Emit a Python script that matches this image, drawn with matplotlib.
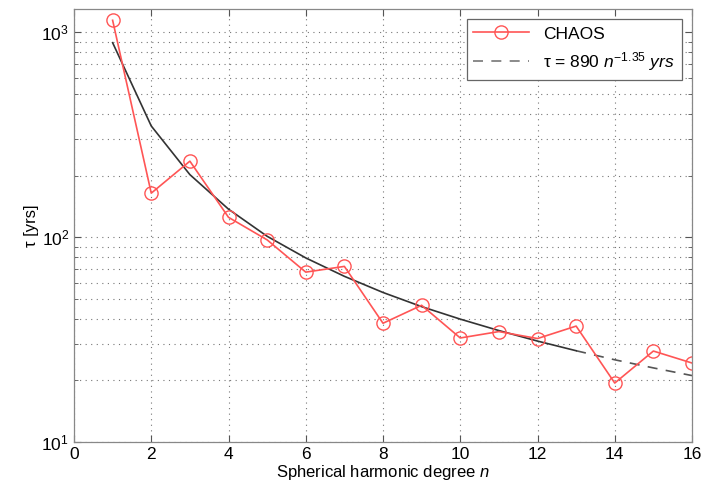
import matplotlib
matplotlib.use("Agg")
import matplotlib.pyplot as plt
from matplotlib.ticker import LogLocator, NullFormatter, FixedLocator

plt.rcParams['font.family'] = ['Liberation Sans', 'DejaVu Sans']
plt.rcParams['mathtext.fontset'] = 'custom'
plt.rcParams['mathtext.rm'] = 'Liberation Sans'
plt.rcParams['mathtext.it'] = 'Liberation Sans:italic'

degree = [1, 2, 3, 4, 5, 6, 7, 8, 9, 10, 11, 12, 13, 14, 15, 16]
chaos_tau = [1145, 164, 235, 125, 97, 67.5, 72, 38, 46.5, 32.2, 34.6, 32, 36.8, 19.4, 27.8, 24.3]
fit_tau = [890, 349, 202, 137, 101, 79.2, 64.4, 53.7, 45.8, 39.8, 35.0, 31.1, 27.9, 25.2, 23.0, 21.1]
fit_solid_end = 13
xticks = [0, 2, 4, 6, 8, 10, 12, 14, 16]

fig = plt.figure(figsize=(7.02, 4.92), dpi=100)
ax = fig.add_axes([74/702, 1-442/492, (692-74)/702, (442-9)/492])

ns = fit_solid_end
ax.plot(degree[ns-1:], fit_tau[ns-1:], color='#555555', linestyle=(0, (6, 5)), lw=1.2)
ax.plot(degree[:ns], fit_tau[:ns], color='#333333', lw=1.2)
l1, = ax.plot(degree, chaos_tau, color='#ff5555', lw=1.2, marker='o', ms=9.5,
              mfc='none', mec='#ff5555', mew=1.0)
l2, = ax.plot([], [], color='#777777', linestyle=(0, (6, 5)), lw=1.2)

ax.set_yscale('log')
ax.set_xlim(0, 16)
ax.set_ylim(10, 1300)
ax.xaxis.set_major_locator(FixedLocator(xticks))
ax.yaxis.set_major_locator(LogLocator(base=10, numticks=10))
ax.yaxis.set_minor_locator(LogLocator(base=10, subs=range(2, 10), numticks=20))
ax.yaxis.set_minor_formatter(NullFormatter())

ax.grid(True, which='major', axis='both', linestyle=(0, (1, 4)), color='#777777', lw=0.8)
ax.grid(True, which='minor', axis='y', linestyle=(0, (1, 4)), color='#777777', lw=0.8)

ax.tick_params(which='both', direction='in', top=True, right=True, labelsize=12.5, color='#555555')
ax.tick_params(which='major', length=5)
ax.tick_params(which='minor', length=3)
for s in ax.spines.values():
    s.set_color('#888888')
    s.set_linewidth(0.9)

ax.set_xlabel('Spherical harmonic degree $n$', fontsize=12, labelpad=1)
ax.set_ylabel('τ [yrs]', fontsize=12, labelpad=2)

leg = ax.legend([l1, l2], ['CHAOS', r'τ = 890 $n^{-1.35}$ $yrs$'], loc='upper right',
                fontsize=12.5, fancybox=False, framealpha=1, edgecolor='#666666',
                handlelength=3.2, borderaxespad=0.6, labelspacing=0.5)
leg.get_frame().set_linewidth(0.9)

fig.savefig('out.png', dpi=100)
